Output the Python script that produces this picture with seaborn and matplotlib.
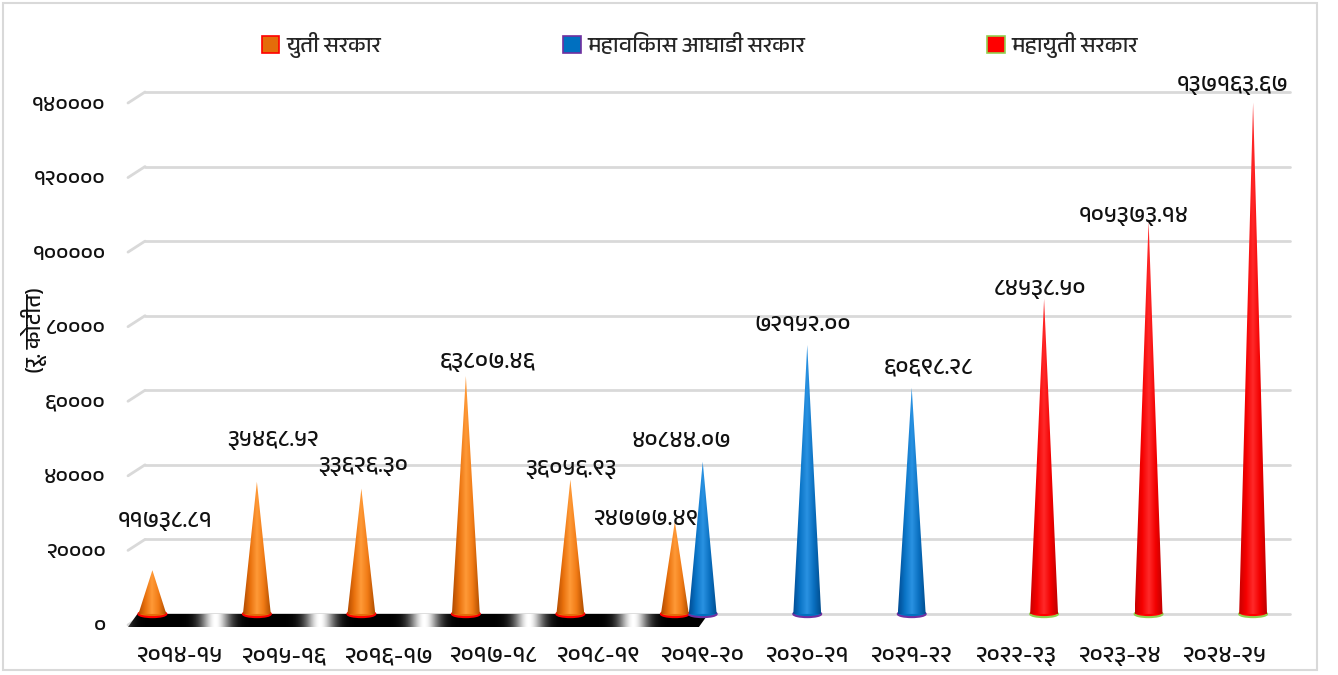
import numpy as np
import pandas as pd
import matplotlib
matplotlib.use("Agg")
import matplotlib.pyplot as plt
import matplotlib.transforms as mtransforms
from matplotlib.patches import Polygon, Ellipse, Patch, Rectangle
from matplotlib.colors import LinearSegmentedColormap
from matplotlib import font_manager
from matplotlib.ft2font import FT2Font
import seaborn as sns

# ---- data (रू. कोटीत) ----
years = ["2014-15", "2015-16", "2016-17", "2017-18", "2018-19", "2019-20",
         "2020-21", "2021-22", "2022-23", "2023-24", "2024-25"]
govts = ["युती सरकार", "महाविकास आघाडी सरकार", "महायुती सरकार"]

yuti_years = ["2014-15", "2015-16", "2016-17", "2017-18", "2018-19", "2019-20"]
yuti_values = [11738.81, 35468.52, 33626.30, 63807.46, 36056.93, 24777.49]

mva_years = ["2019-20", "2020-21", "2021-22"]
mva_values = [40844.07, 72152.00, 60698.28]

mahayuti_years = ["2022-23", "2023-24", "2024-25"]
mahayuti_values = [84538.50, 105373.14, 137163.67]

y_ticks = [0, 20000, 40000, 60000, 80000, 100000, 120000, 140000]

# label placement relative to cone tip (pixels), same order as the bars are drawn
label_offsets = [(13, 49), (16, 42), (2, 23), (22, 14), (1, 11), (-28, 3),
                 (-21, 21), (-5, 20), (17, 20),
                 (-4, 10), (-15, 5), (-20, 18)]

# ---- font with Devanagari ----
deva_family = None
for f in font_manager.fontManager.ttflist:
    try:
        if FT2Font(f.fname).get_char_index(0x0915):
            deva_family = f.name
            if "Devanagari" in f.name:
                break
    except Exception:
        pass
if deva_family is None:
    deva_family = "Noto Sans"

sns.set_style("white")
plt.rcParams["font.family"] = [deva_family, "DejaVu Sans"]

DEV = str.maketrans("0123456789", "०१२३४५६७८९")

df = pd.concat([
    pd.DataFrame({"year": yuti_years, "value": yuti_values, "govt": govts[0]}),
    pd.DataFrame({"year": mva_years, "value": mva_values, "govt": govts[1]}),
    pd.DataFrame({"year": mahayuti_years, "value": mahayuti_values, "govt": govts[2]}),
])

W, H = 1338, 675
fig = plt.figure(figsize=(W / 100, H / 100), dpi=100)
ax = fig.add_axes([128 / W, 1 - 627 / H, (1290 - 128) / W, (627 - 92) / H])

sns.barplot(data=df, x="year", y="value", hue="govt", order=years, hue_order=govts,
            dodge=True, width=0.8, errorbar=None, legend=False, ax=ax)

XL, XR = -0.5, 10.62
YB, YT = -3500, 140000

cone_cmaps = [
    LinearSegmentedColormap.from_list("o", ["#B04A00", "#E8700C", "#FF9A38", "#F07A14", "#B04E00"]),
    LinearSegmentedColormap.from_list("b", ["#004C94", "#0A74C6", "#2A92E2", "#0A70C0", "#004E90"]),
    LinearSegmentedColormap.from_list("r", ["#C80000", "#F50000", "#FF2A2A", "#F20000", "#C00000"]),
]
base_face = ["#E46C0A", "#0070C0", "#FF0000"]
base_edge = ["#FF0000", "#7030A0", "#92D050"]
grad = np.linspace(0, 1, 64).reshape(1, -1)

orange_centers = []
n = 0
for k, cont in enumerate(ax.containers):
    for bar in cont:
        h = bar.get_height()
        if not np.isfinite(h) or h <= 0:
            bar.set_visible(False)
            continue
        x0, w = bar.get_x(), bar.get_width()
        xc = x0 + w / 2
        bar.set_visible(False)
        if k == 0:
            orange_centers.append(xc)
        ax.add_patch(Ellipse((xc, 0), w, 1700, facecolor=base_face[k],
                             edgecolor=base_edge[k], lw=1.5, zorder=3, clip_on=False))
        im = ax.imshow(grad, extent=[x0, x0 + w, 0, h], aspect="auto",
                       cmap=cone_cmaps[k], zorder=4, interpolation="bilinear")
        tri = Polygon([(x0, 0), (x0 + w, 0), (xc, h)], closed=True,
                      transform=ax.transData)
        im.set_clip_path(tri)
        dx, dy = label_offsets[n]
        ax.annotate(f"{h:.2f}".translate(DEV), (xc, h), xytext=(dx * 0.72, dy * 0.72),
                    textcoords="offset points", ha="center", va="center",
                    fontsize=17, fontweight="bold", color="#111111", zorder=6)
        n += 1

# floor strip under the first series
fx0, fx1 = XL, orange_centers[-1] + 0.32
xs = np.linspace(fx0, fx1, 600)
phase = (xs - orange_centers[0]) % 1.0
shade = np.exp(-((phase - 0.6) / 0.14) ** 2)
floor = ax.imshow(shade.reshape(1, -1), extent=[fx0, fx1, YB, 0], aspect="auto",
                  cmap="gray", vmin=0, vmax=1, zorder=2, interpolation="bilinear")
floor.set_clip_path(Polygon([(fx0, YB), (fx0 + 0.09, 0), (fx1, 0), (fx1 - 0.09, YB)],
                            closed=True, transform=ax.transData))

# gridlines with the little 3D slant on the left
for v in y_ticks:
    ax.plot([XL, XL + 0.163], [v - 2950, v], color="#D9D9D9", lw=2, zorder=1, clip_on=False)
    ax.plot([XL + 0.163, XR], [v, v], color="#D9D9D9", lw=2, zorder=1, clip_on=False)

ax.set_xlim(XL, XR)
ax.set_ylim(YB, YT)
ax.set_yticks(y_ticks)
ax.set_yticklabels([str(v).translate(DEV) for v in y_ticks])
ax.set_xticks(range(len(years)))
ax.set_xticklabels([y.translate(DEV) for y in years])
ax.tick_params(axis="y", length=0, pad=16, labelsize=16)
ax.tick_params(axis="x", length=0, pad=14, labelsize=17)
for t in ax.yaxis.get_major_ticks():
    t.label1.set_transform(t.label1.get_transform()
                           + mtransforms.ScaledTranslation(0, -0.11, fig.dpi_scale_trans))
for lab in ax.get_xticklabels() + ax.get_yticklabels():
    lab.set_fontweight("bold")
    lab.set_color("#111111")
ax.set_xlabel("")
ax.set_ylabel("(रू. कोटीत)", fontsize=16, fontweight="bold", color="#111111")
ax.yaxis.set_label_coords(-0.07, 0.555)
sns.despine(ax=ax, left=True, bottom=True)

handles = [Patch(facecolor=base_face[i], edgecolor=base_edge[i], lw=1.2) for i in range(3)]
fig.legend(handles, govts, loc="center", bbox_to_anchor=(0.523, 0.933), ncol=3,
           frameon=False, handlelength=0.8, handleheight=0.8, handletextpad=0.3,
           columnspacing=8.2, prop={"size": 16, "weight": "bold"})

fig.patches.append(Rectangle((3 / W, 1 - 670 / H), 1314 / W, 667 / H, transform=fig.transFigure,
                             fill=False, edgecolor="#D9D9D9", lw=1.5))

fig.savefig("out.png", dpi=100)
